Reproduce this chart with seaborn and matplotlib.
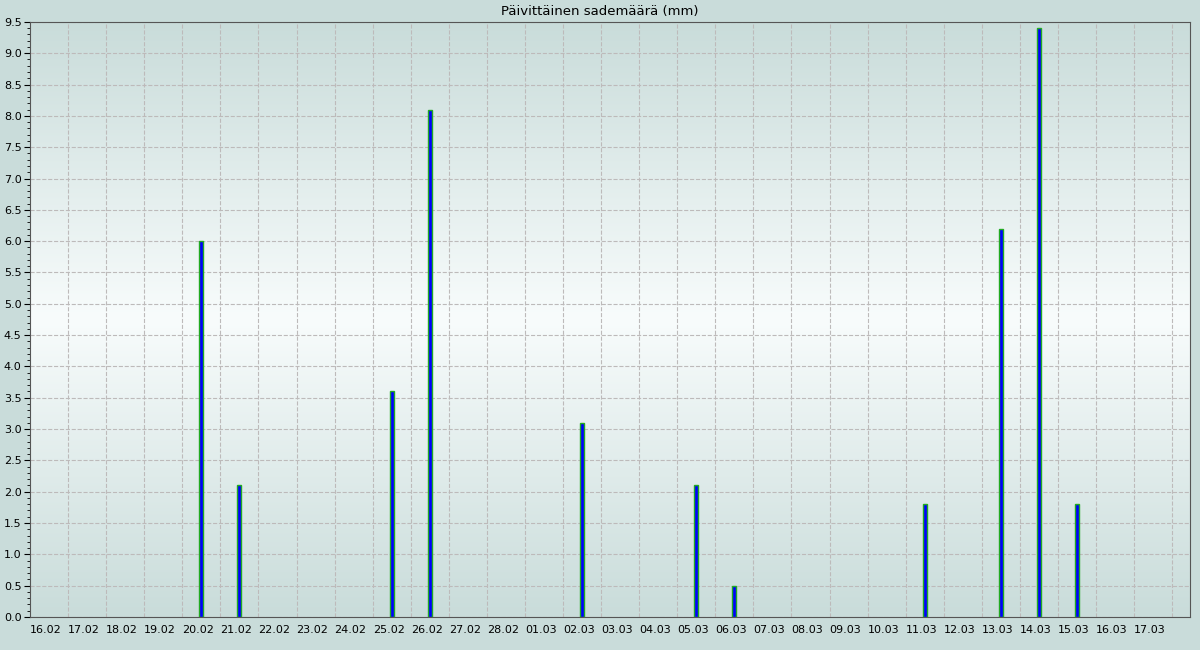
import numpy as np
import pandas as pd
import seaborn as sns
import matplotlib.pyplot as plt
import matplotlib.transforms as mtransforms
from matplotlib.colors import LinearSegmentedColormap
from matplotlib.ticker import MultipleLocator

# päivät 16.02 - 17.03
days = ["16.02", "17.02", "18.02", "19.02", "20.02", "21.02", "22.02", "23.02",
        "24.02", "25.02", "26.02", "27.02", "28.02", "01.03", "02.03", "03.03",
        "04.03", "05.03", "06.03", "07.03", "08.03", "09.03", "10.03", "11.03",
        "12.03", "13.03", "14.03", "15.03", "16.03", "17.03"]
rain_days = ["20.02", "21.02", "25.02", "26.02", "02.03", "05.03", "06.03",
             "11.03", "13.03", "14.03", "15.03"]
rain_mm = [6.0, 2.1, 3.6, 8.1, 3.1, 2.1, 0.5, 1.8, 6.2, 9.4, 1.8]

df = pd.DataFrame({"day": rain_days, "mm": rain_mm})

bg = "#c9dcda"
fig = plt.figure(figsize=(12, 6.5), dpi=100, facecolor=bg)
ax = fig.add_axes([0.025, 0.0508, 0.9667, 0.9155])

# taustan liukuväri
cmap = LinearSegmentedColormap.from_list("bg", [bg, "#f8fcfc", bg])
grad = np.linspace(0, 1, 256).reshape(-1, 1)
ax.imshow(grad, cmap=cmap, aspect="auto", extent=[0, 1, 0, 1],
          transform=ax.transAxes, zorder=0)

sns.barplot(data=df, x="day", y="mm", order=days, ax=ax, width=0.1,
            color="#0000ff", edgecolor="#22aa22", linewidth=1,
            saturation=1, zorder=3)

ax.set_xlim(-0.5, 29.97)
ax.set_ylim(0, 9.5)
ax.set_xticks(range(len(days)))
ax.set_xticklabels(days, fontsize=8)
ax.set_xticks(np.arange(0.5, 29.6, 1), minor=True)
ax.yaxis.set_major_locator(MultipleLocator(0.5))
ax.yaxis.set_minor_locator(MultipleLocator(0.1))
ax.set_yticklabels([f"{v:.1f}" for v in ax.get_yticks()], fontsize=8)
ax.tick_params(axis="x", which="both", length=0, pad=6)
ax.tick_params(axis="y", which="major", length=4, pad=2)
ax.tick_params(axis="y", which="minor", length=2)

# x-nimiöt hieman vasemmalle
shift = mtransforms.ScaledTranslation(-3 / 100, 0, fig.dpi_scale_trans)
for lbl in ax.get_xticklabels():
    lbl.set_transform(lbl.get_transform() + shift)

ax.grid(True, axis="y", which="major", linestyle="--", color="#bdbaba", linewidth=0.8)
ax.grid(True, axis="x", which="minor", linestyle="--", color="#bdbaba", linewidth=0.8)
ax.set_axisbelow(True)
for s in ax.spines.values():
    s.set_color("#555555")
ax.set_xlabel("")
ax.set_ylabel("")
fig.text(0.5, 0.983, "Päivittäinen sademäärä (mm)", ha="center", va="center", fontsize=9.5)

plt.savefig("out.png", dpi=100, facecolor=bg)
